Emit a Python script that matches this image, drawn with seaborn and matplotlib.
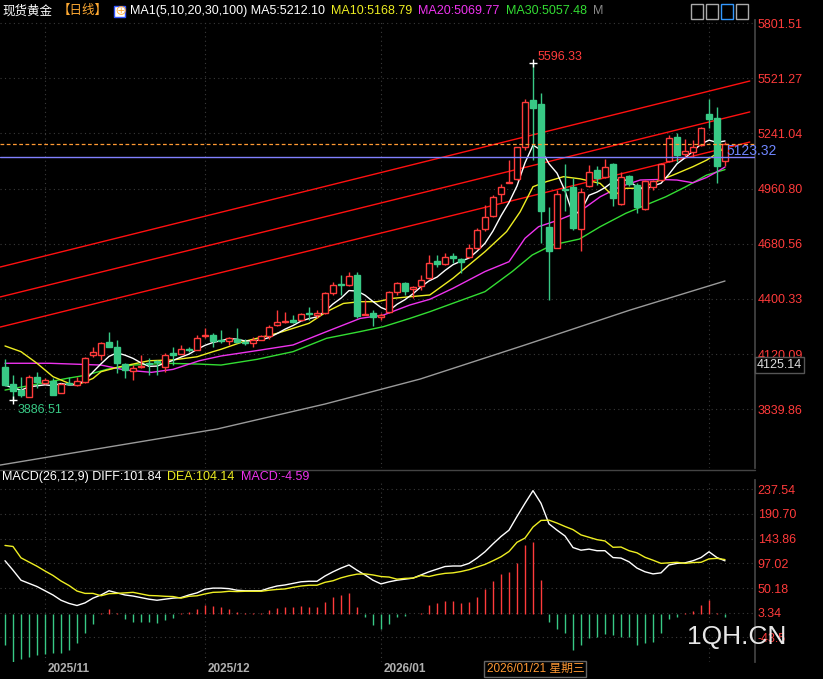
import numpy as np
import pandas as pd
import matplotlib
matplotlib.use("Agg")
import matplotlib.pyplot as plt
import matplotlib.transforms as mtransforms
import seaborn as sns

# ---- daily candles ----
opens = [4052, 3968, 3937, 3903, 4001, 3971, 3985, 3920, 3974, 3962,
         3979, 4115, 4115, 4179, 4154, 4069, 4035, 4052, 4072, 4082,
         4056, 4124, 4118, 4145, 4143, 4211, 4216, 4191, 4188, 4196,
         4183, 4178, 4191, 4211, 4267, 4282, 4293, 4293, 4325, 4318,
         4327, 4432, 4472, 4470, 4521, 4318, 4327, 4310, 4335, 4433,
         4479, 4449, 4465, 4505, 4593, 4576, 4618, 4602, 4611, 4660,
         4754, 4823, 4931, 4991, 5007, 5170, 5410, 5388, 4767, 4660,
         4960, 4967, 4753, 4975, 5055, 5017, 5085, 4880, 5024, 4978,
         4857, 4970, 5004, 5100, 5221, 5134, 5148, 5182, 5339, 5320, 5102]
closes = [3962, 3934, 3912, 4005, 3979, 3988, 3912, 3968, 3968, 3983,
          4098, 4128, 4174, 4157, 4073, 4039, 4047, 4060, 4068, 4080,
          4115, 4115, 4145, 4143, 4200, 4218, 4188, 4188, 4200, 4183,
          4174, 4191, 4211, 4259, 4283, 4287, 4284, 4323, 4323, 4327,
          4428, 4471, 4470, 4516, 4315, 4323, 4310, 4318, 4433, 4479,
          4442, 4459, 4496, 4581, 4576, 4611, 4606, 4586, 4657, 4750,
          4814, 4919, 4970, 4996, 5170, 5402, 5368, 4848, 4645, 4931,
          4955, 4759, 4945, 5043, 5012, 5068, 4911, 5017, 4984, 4868,
          5000, 5000, 5085, 5216, 5131, 5151, 5170, 5266, 5314, 5075, 5187]
highs = [4093, 4013, 4005, 4013, 4030, 3996, 3996, 3971, 4005, 4005,
         4106, 4157, 4183, 4233, 4191, 4073, 4064, 4115, 4098, 4090,
         4124, 4157, 4166, 4154, 4216, 4250, 4225, 4242, 4205, 4250,
         4195, 4205, 4217, 4267, 4344, 4335, 4318, 4330, 4360, 4344,
         4437, 4487, 4521, 4538, 4538, 4394, 4344, 4330, 4442, 4484,
         4484, 4465, 4521, 4623, 4623, 4632, 4632, 4606, 4677, 4759,
         4877, 4928, 4982, 5106, 5173, 5415, 5596.33, 5444, 4869, 4953,
         5084, 5012, 4962, 5080, 5075, 5109, 5092, 5046, 5029, 4987,
         5004, 5004, 5092, 5232, 5241, 5210, 5207, 5271, 5414, 5376, 5199]
lows = [3957, 3886.51, 3900, 3900, 3946, 3967, 3910, 3920, 3962, 3957,
        3975, 4106, 4090, 4154, 4022, 3996, 3988, 4047, 4013, 4013,
        4030, 4064, 4118, 4132, 4140, 4200, 4157, 4174, 4166, 4174,
        4166, 4157, 4191, 4195, 4262, 4276, 4276, 4289, 4293, 4301,
        4323, 4420, 4420, 4465, 4301, 4318, 4262, 4293, 4327, 4420,
        4420, 4403, 4445, 4501, 4564, 4572, 4581, 4530, 4606, 4654,
        4745, 4818, 4894, 4987, 5004, 5156, 5106, 4683, 4395, 4657,
        4848, 4750, 4645, 4970, 4978, 5012, 4872, 4877, 4973, 4835,
        4852, 4953, 5000, 5095, 5097, 5114, 5122, 5177, 5266, 4990, 5075]

# moving averages read as points (index, value)
ma10_x = [0, 2, 4, 6, 8, 9, 11, 12, 14, 16, 18, 21, 24, 26, 27, 29.8, 34, 38, 40.2, 42.3,
          44.4, 46.5, 48.5, 50.6, 53.1, 56, 60, 62.7, 64.4, 66, 67.7, 69.8, 71.9, 74.4,
          76, 77.6, 79.4, 81.9, 83.5, 86, 87.7, 89, 90]
ma10_y = [4161, 4132, 4073, 4005, 3971, 3963, 3996, 4030, 4052, 4069, 4086, 4090, 4106, 4132,
          4144, 4183, 4225, 4276, 4335, 4377, 4386, 4386, 4403, 4411, 4420, 4505, 4640, 4742,
          4843, 4970, 4996, 5021, 5010, 4987, 4923, 4962, 4962, 5004, 5029, 5072, 5105, 5139, 5169]
ma20_x = [0, 5.6, 12, 15, 18.3, 21, 24.3, 27, 31.9, 36, 40.2, 44.4, 47.3, 50.6, 53.1, 56, 60,
          63, 65, 66.7, 69.2, 71.8, 74.4, 76.9, 79.4, 81.9, 84, 86, 87.7, 89, 90]
ma20_y = [4073, 4073, 4064, 4039, 4027, 4042, 4086, 4110, 4140, 4166, 4234, 4301, 4318, 4369,
          4398, 4454, 4539, 4589, 4708, 4767, 4801, 4843, 4919, 4970, 5004, 5007, 5004, 4990,
          5017, 5046, 5070]
ma30_x = [0, 3.5, 7.7, 10.2, 12.7, 16, 20.2, 24.3, 27, 31.5, 36, 40.2, 44.4, 47.3, 50.6, 53.1,
          56, 60, 63.4, 65.9, 68.4, 71.8, 74.4, 77.6, 80.1, 82.6, 85.1, 87.7, 90]
ma30_y = [3937, 3963, 3996, 4013, 4042, 4064, 4073, 4069, 4064, 4093, 4132, 4200, 4234, 4259,
          4301, 4335, 4378, 4437, 4539, 4623, 4674, 4704, 4767, 4835, 4877, 4919, 4970, 5029, 5057]
ma100_x = [-0.6, 13, 26.5, 40, 51.9, 65, 78.1, 90]
ma100_y = [3556, 3648, 3739, 3866, 3993, 4166, 4343, 4491]

# drawn trend channel (start/end of each red line)
chan_x = [-0.6, 93.1]
chan_lines = [[4562, 5507], [4410, 5350], [4257, 5197]]

# MACD panel
diff = [102, 84, 65, 59, 53, 45, 37, 27, 21, 17, 22, 31, 37, 45, 41, 37, 35, 32, 29, 27,
        29, 31, 32, 37, 41, 48, 50, 50, 49, 46, 45, 45, 45, 50, 54, 56, 59, 62, 63, 63,
        73, 81, 88, 94, 84, 75, 65, 58, 62, 65, 67, 69, 75, 81, 86, 91, 92, 92, 97, 107,
        119, 134, 148, 160, 186, 211, 235, 211, 172, 160, 149, 127, 122, 124, 121, 121, 108, 107, 100, 88,
        81, 77, 79, 94, 97, 98, 102, 108, 119, 108, 101.84]
macd_hist = [-58, -90, -85, -81, -77, -75, -74, -73, -68, -55, -36, -18, 3, 11, 2, -8, -14, -14, -14, -17,
             -11, -6, 2, 5, 11, 18, 16, 15, 10, 5, 2, 2, 2, 8, 13, 15, 15, 16, 15, 15,
             24, 34, 37, 41, 15, -4, -20, -28, -18, -4, -3, 0, 2, 18, 21, 26, 26, 21, 24, 34,
             48, 64, 77, 81, 98, 132, 138, 65, -14, -27, -36, -68, -58, -45, -42, -37, -39, -42, -42, -58,
             -55, -52, -36, -8, -4, 2, 7, 18, 27, 3, -4.59]
dea = [d - h / 2 for d, h in zip(diff, macd_hist)]

price_ticks = [5801.51, 5521.27, 5241.04, 4960.80, 4680.56, 4400.33, 4120.09, 3839.86]
macd_ticks = [237.54, 190.70, 143.86, 97.02, 50.18, 3.34, -43.5]
month_idx = [5, 25, 47, 88]
date_labels = {5: "2025/11", 25: "2025/12", 47: "2026/01"}

UP = "#ff3b3b"
DOWN = "#38c985"
BG = "#000000"
GRID = "#3a3a3a"

sns.set_theme(style="dark", rc={"figure.facecolor": BG, "axes.facecolor": BG})
plt.rcParams["font.family"] = ["Liberation Sans", "Noto Sans CJK SC", "DejaVu Sans"]

W, H = 823, 679
fig = plt.figure(figsize=(W / 100, H / 100), dpi=100)
ax = fig.add_axes([0, 1 - 468 / H, 755 / W, 448 / H])
mx = fig.add_axes([0, 1 - 662 / H, 755 / W, 182 / H])

n = len(closes)
idx = np.arange(n)
for a in (ax, mx):
    a.set_facecolor(BG)
    a.set_xlim(-0.625, 93.75)
    for s in a.spines.values():
        s.set_visible(False)
    a.spines["right"].set_visible(True)
    a.spines["right"].set_color("#444444")
    a.set_xticks([])
    a.yaxis.tick_right()
    a.tick_params(axis="y", length=0, pad=2, labelsize=9, labelcolor="#ff3b3b")
    for m in month_idx:
        a.axvline(m, color=GRID, lw=0.8, ls=(0, (1, 3)), zorder=0)

# ---- price panel ----
ax.set_ylim(3541, 5817)
ax.set_yticks(price_ticks)
ax.set_yticklabels([f"{t:.2f}" for t in price_ticks])
for t in price_ticks:
    ax.axhline(t, color=GRID, lw=0.8, ls=(0, (1, 3)), zorder=0)

for line in chan_lines:
    ax.plot(chan_x, line, color="#ff1010", lw=1, zorder=1)

sns.lineplot(x=ma100_x, y=ma100_y, ax=ax, color="#9a9a9a", lw=1, sort=False, estimator=None, zorder=2)
sns.lineplot(x=ma30_x, y=ma30_y, ax=ax, color="#33dd33", lw=1, sort=False, estimator=None, zorder=2)
sns.lineplot(x=ma20_x, y=ma20_y, ax=ax, color="#ee33ee", lw=1, sort=False, estimator=None, zorder=2)
sns.lineplot(x=ma10_x, y=ma10_y, ax=ax, color="#eeee22", lw=1, sort=False, estimator=None, zorder=2)
ma5 = pd.Series(closes).rolling(5, min_periods=1).mean()
sns.lineplot(x=idx, y=ma5.values, ax=ax, color="#ffffff", lw=1, sort=False, estimator=None, zorder=2)

for i in range(n):
    o, c, h, l = opens[i], closes[i], highs[i], lows[i]
    up = c >= o
    col = UP if up else DOWN
    ax.vlines(i, l, h, color=col, lw=1, zorder=3)
    bottom = min(o, c)
    height = max(abs(c - o), 5)
    ax.bar(i, height, bottom=bottom, width=0.72, facecolor=BG if up else DOWN,
           edgecolor=col, lw=1, zorder=4)

ax.axhline(closes[-1], color="#ff9933", lw=0.9, ls=(0, (3, 2)), zorder=5)
ax.axhline(5123.32, color="#8080ff", lw=1, zorder=5)
ax.text(90.2, 5150, "5123.32", color="#6f86ff", fontsize=10, va="center", ha="left", zorder=6)

ax.plot(66, 5596.33, marker="+", color="white", ms=6, mew=1, zorder=6)
ax.text(66.6, 5629, "5596.33", color="#ff3b3b", fontsize=9, ha="left", va="center")
ax.plot(1, 3886.51, marker="+", color="white", ms=6, mew=1, zorder=6)
ax.text(1.6, 3836, "3886.51", color="#38c985", fontsize=9, ha="left", va="center")

fig.text(757 / W, 1 - 365 / H, "4125.14", color="#dddddd", fontsize=9, va="center",
         bbox=dict(facecolor=BG, edgecolor="#555555", pad=1.2))

# ---- MACD panel ----
mx.set_ylim(-90.2, 255.2)
mx.set_yticks(macd_ticks)
mx.set_yticklabels([f"{t:.2f}" if t > 0 else "-43.5" for t in macd_ticks])
for t in macd_ticks:
    mx.axhline(t, color=GRID, lw=0.8, ls=(0, (1, 3)), zorder=0)
hist = np.array(macd_hist)
mx.vlines(idx[hist >= 0], 0, hist[hist >= 0], color=UP, lw=1)
mx.vlines(idx[hist < 0], 0, hist[hist < 0], color=DOWN, lw=1)
sns.lineplot(x=idx, y=diff, ax=mx, color="#ffffff", lw=1, sort=False, estimator=None)
sns.lineplot(x=idx, y=dea, ax=mx, color="#eeee22", lw=1, sort=False, estimator=None)
mx.text(91.5, -43, "1QH.CN", color="#e6e6e6", fontsize=19, ha="center", va="center", zorder=6)

trans = mtransforms.blended_transform_factory(mx.transData, fig.transFigure)
for i, lab in date_labels.items():
    mx.text(i + 0.3, 1 - 669 / H, lab, transform=trans, color="#b0b0b0", fontsize=8.5,
            fontweight="bold", ha="left", va="center", clip_on=False)
mx.text(60.2, 1 - 669 / H, "2026/01/21 星期三", transform=trans, color="#ff9933", fontsize=8.5,
        ha="left", va="center", clip_on=False,
        bbox=dict(facecolor=BG, edgecolor="#666666", pad=1.5))
fig.add_artist(plt.Line2D([0, 755 / W], [1 - 470 / H] * 2, color="#444444", lw=1))

# ---- header texts ----
def row(y, parts, x0):
    x = x0
    for txt, col in parts:
        t = fig.text(x / W, 1 - y / H, txt, color=col, fontsize=9, va="center", ha="left")
        fig.canvas.draw()
        bb = t.get_window_extent()
        x = bb.x1 + 6

row(11, [("现货黄金", "#ffffff"), ("【日线】", "#ffaa33"), ("⊕", "#ffaa33")], 2)
row(11, [("MA1(5,10,20,30,100) MA5:5212.10", "#ffffff"), ("MA10:5168.79", "#eeee22"),
         ("MA20:5069.77", "#ee33ee"), ("MA30:5057.48", "#33dd33"), ("M", "#888888")], 130)
fig.add_artist(plt.Rectangle((114 / W, 1 - 17 / H), 11 / W, 11 / H, facecolor="#ffffff",
                             edgecolor="#3355ff", lw=1))
row(477, [("MACD(26,12,9) DIFF:101.84", "#ffffff"), ("DEA:104.14", "#eeee22"),
          ("MACD:-4.59", "#ee33ee")], 2)
for k in range(4):
    fig.add_artist(plt.Rectangle(((691 + 15 * k) / W, 1 - 19 / H), 12 / W, 15 / H,
                                 facecolor=BG, edgecolor="#3399ff" if k == 2 else "#aaaaaa", lw=1))

fig.savefig("out.png", dpi=100, facecolor=BG)
